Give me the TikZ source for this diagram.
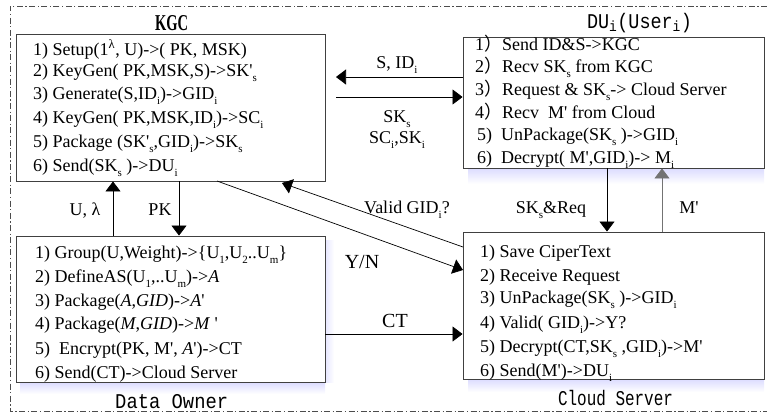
\documentclass[tikz,border=0pt]{standalone}
\usepackage{fontspec}
\usepackage{graphicx}
\setmainfont{Liberation Serif}[Ligatures=TeXOff]
\newfontfamily\monofont{Liberation Mono}
\newfontfamily\cjk{Noto Sans CJK SC}
\usetikzlibrary{arrows.meta}
\newcommand{\sub}[1]{\raisebox{-0.28em}[\height][0pt]{\fontsize{11}{11}\selectfont #1}}
\newcommand{\fw}{\raisebox{0pt}[0.7em][0.15em]{\cjk ）}}
\begin{document}
\begin{tikzpicture}[x=1pt,y=-1pt,
  box/.style={draw=black!75, line width=0.9pt, fill=white, inner sep=0pt},
  ln/.style={anchor=base west, inner sep=0pt, font=\fontsize{18}{20}\selectfont},
  lab/.style={anchor=base, inner sep=0pt, font=\fontsize{18}{20}\selectfont},
  ttl/.style={anchor=base, inner sep=0pt},
  arr/.style={line width=0.7pt, -{Triangle[length=10pt,width=15pt]}},
  frame/.style={draw=black!70, line width=0.7pt, dash pattern=on 6pt off 2.5pt on 1.2pt off 2.5pt}
]
\useasboundingbox (0,0) rectangle (767,413);
% outer frame
\draw[frame] (767,6) -- (10,6) -- (10,411) -- (767,411);
% shadows
\shade[top color=blue!14, bottom color=white] (468,168) rectangle (764,184);
\shade[top color=blue!14, bottom color=white] (20,382) rectangle (325,394);
\shade[left color=blue!10, right color=white] (325,240) rectangle (334,382);
\shade[top color=blue!14, bottom color=white] (468,379) rectangle (764,392);
% boxes
\node[box, minimum width=309pt, minimum height=147pt] (kgc) at (170.5,107.5) {};
\node[box, minimum width=301pt, minimum height=131pt] (du) at (613.5,102.5) {};
\node[box, minimum width=309pt, minimum height=146pt] (do) at (170.5,309) {};
\node[box, minimum width=301pt, minimum height=147pt] (cs) at (613.5,305.5) {};
% titles
\node[ttl] (tkgc) at (171.5,30) {\resizebox{33pt}{15pt}{\textbf{KGC}}};
\node[ttl] (tdu) at (639.5,28) {\resizebox{105pt}{\height}{\fontsize{21}{21}\monofont DU\textsubscript{i}(User\textsubscript{i})}};
\node[ttl, anchor=base west] (tdo) at (115,408) {\resizebox{113pt}{\height}{\fontsize{21}{21}\monofont Data Owner}};
\node[ttl] (tcs) at (615.5,405) {\resizebox{115pt}{\height}{\fontsize{21}{21}\monofont Cloud Server}};
% KGC lines
\node[ln] (k1) at (33,55) {1) Setup(1\textsuperscript{λ}, U)->( PK, MSK)};
\node[ln] (k2) at (33,76) {2) KeyGen( PK,MSK,S)->SK'\sub{s}};
\node[ln] (k3) at (33,99) {3) Generate(S,ID\sub{i})->GID\sub{i}};
\node[ln] (k4) at (33,123) {4) KeyGen( PK,MSK,ID\sub{i})->SC\sub{i}};
\node[ln] (k5) at (33,147) {5) Package (SK'\sub{s},GID\sub{i})->SK\sub{s}};
\node[ln] (k6) at (33,171) {6) Send(SK\sub{s} )->DU\sub{i}};
% DU lines
\node[ln] (d1) at (475,50) {1\fw Send ID\&S->KGC};
\node[ln] (d2) at (475,72) {2\fw Recv SK\sub{s} from KGC};
\node[ln] (d3) at (475,95) {3\fw Request \& SK\sub{s}-> Cloud Server};
\node[ln] (d4) at (475,118) {4\fw Recv\ \ M' from Cloud};
\node[ln] (d5) at (477,140) {5)\ \ UnPackage(SK\sub{s} )->GID\sub{i}};
\node[ln] (d6) at (477,163) {6)\ \ Decrypt( M',GID\sub{i})-> M\sub{i}};
% Data Owner lines
\node[ln] (o1) at (35,258) {1) Group(U,Weight)->\{U\sub{1},U\sub{2}..U\sub{m}\}};
\node[ln] (o2) at (35,282) {2) DefineAS(U\sub{1},..U\sub{m})->\textit{A}};
\node[ln] (o3) at (35,306) {3) Package(\textit{A},\textit{GID})->\textit{A}'};
\node[ln] (o4) at (35,329) {4) Package(\textit{M},\textit{GID})->\textit{M} '};
\node[ln] (o5) at (35,354) {5)\ \ Encrypt(PK, M', \textit{A}')->CT};
\node[ln] (o6) at (35,378) {6) Send(CT)->Cloud Server};
% Cloud lines
\node[ln] (c1) at (480,257) {1) Save CiperText};
\node[ln] (c2) at (480,281) {2) Receive Request};
\node[ln] (c3) at (480,303) {3) UnPackage(SK\sub{s} )->GID\sub{i}};
\node[ln] (c4) at (480,328) {4) Valid( GID\sub{i})->Y?};
\node[ln] (c5) at (480,352) {5) Decrypt(CT,SK\sub{s} ,GID\sub{i})->M'};
\node[ln] (c6) at (480,376) {6) Send(M')->DU\sub{i}};
% connector coordinates
\coordinate (p1) at (336,77);
\coordinate (p2) at (336,97);
\coordinate (p3) at (282,183);
\coordinate (p4) at (463,247);
\coordinate (p5) at (217,181);
\coordinate (p6) at (463,270);
% connectors
\draw[arr] (du.west |- p1) -- (p1);
\draw[arr] (p2) -- (du.west |- p2);
\draw[arr] (113,0 |- do.north) -- (113,0 |- kgc.south);
\draw[arr] (179,0 |- kgc.south) -- (179,0 |- do.north);
\draw[arr] (p4) -- (p3);
\draw[arr] (p5) -- (p6);
\draw[arr] (do.east |- 0,334) -- (cs.west |- 0,334);
\draw[arr] (607,0 |- du.south) -- (607,0 |- cs.north);
\draw[arr, draw=black!55] (662,0 |- cs.north) -- (662,0 |- du.south);
% labels
\node[lab] (l1) at (397,68) {S, ID\sub{i}};
\node[lab] (l2) at (397,122) {SK\sub{s}};
\node[lab] (l3) at (397,143) {SC\sub{i},SK\sub{i}};
\node[lab] (l4) at (85,215) {U, λ};
\node[lab] (l5) at (160,215) {PK};
\node[lab] (l6) at (407,213) {Valid GID\sub{i}?};
\node[lab, font=\fontsize{20}{22}\selectfont] (l7) at (362,268) {Y/N};
\node[lab, font=\fontsize{20}{22}\selectfont] (l8) at (395,327) {CT};
\node[lab] (l9) at (551,213) {SK\sub{s}\&Req};
\node[lab] (l10) at (689,213) {M'};
\end{tikzpicture}
\end{document}
